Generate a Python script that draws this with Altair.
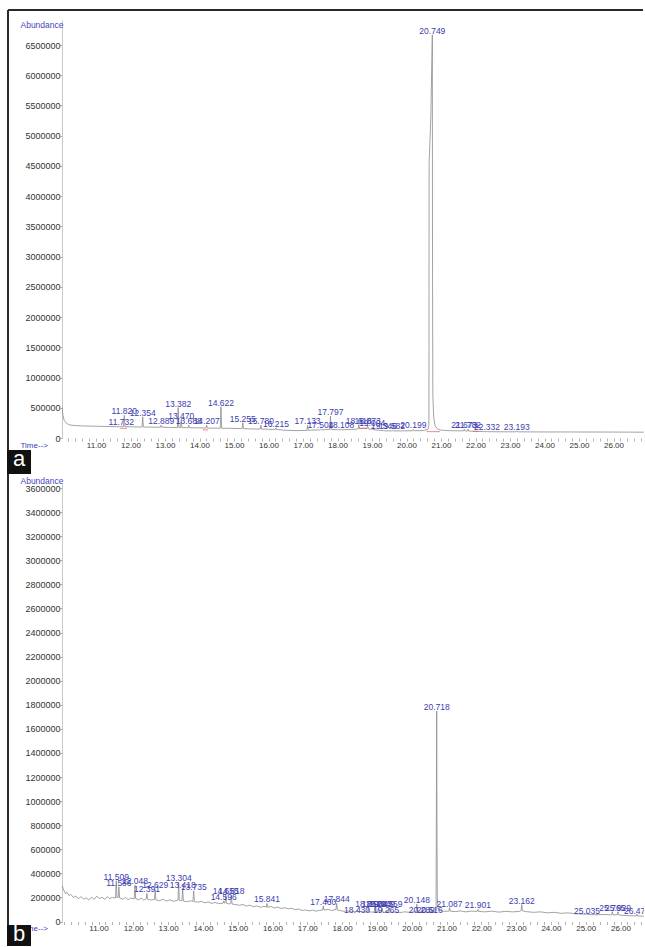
import altair as alt
import pandas as pd

BLUE = "#3c3cb0"
TRACE = "#8c8c8c"

# ---------------- panel (a): total ion chromatogram ----------------
a_time = [
    10.015, 10.04, 10.08, 10.15, 10.25, 10.40, 10.60, 10.80, 11.00, 11.20,
    11.40, 11.60, 11.712, 11.732, 11.752, 11.800, 11.820, 11.840, 12.00, 12.20,
    12.334, 12.354, 12.374, 12.60, 12.869, 12.889, 12.909, 13.10, 13.362, 13.382,
    13.402, 13.450, 13.470, 13.490, 13.668, 13.688, 13.708, 13.90, 14.187, 14.207,
    14.227, 14.40, 14.602, 14.622, 14.642, 14.90, 15.235, 15.255, 15.275, 15.50,
    15.760, 15.780, 15.800, 16.00, 16.195, 16.215, 16.235, 16.50, 16.80, 17.113,
    17.133, 17.153, 17.35, 17.484, 17.504, 17.524, 17.70, 17.777, 17.797, 17.817,
    18.00, 18.088, 18.108, 18.128, 18.40, 18.598, 18.618, 18.638, 18.75, 18.853,
    18.873, 18.893, 18.984, 19.004, 19.024, 19.20, 19.326, 19.346, 19.366, 19.562,
    19.582, 19.602, 19.90, 20.179, 20.199, 20.219, 20.45, 20.62, 20.650, 20.656,
    20.705, 20.749, 20.755, 20.764, 20.79, 20.83, 20.90, 21.00, 21.20, 21.40,
    21.653, 21.673, 21.693, 21.762, 21.782, 21.802, 22.00, 22.312, 22.332, 22.352,
    22.70, 23.173, 23.193, 23.213, 23.60, 24.00, 24.50, 25.00, 25.50, 26.00,
    26.50, 26.88,
]
a_abund = [
    520000, 380000, 290000, 240000, 215000, 205000, 200000, 197000, 195000, 192000,
    190000, 188000, 185000, 202000, 185000, 188000, 377000, 188000, 185000, 183000,
    182000, 351000, 182000, 180000, 178000, 212000, 178000, 175000, 173000, 504000,
    175000, 174000, 306000, 172000, 170000, 212000, 170000, 168000, 165000, 212000,
    165000, 163000, 162000, 516000, 162000, 160000, 155000, 251000, 155000, 150000,
    148000, 212000, 148000, 145000, 142000, 169000, 140000, 128000, 122000, 125000,
    212000, 128000, 132000, 135000, 146000, 135000, 140000, 142000, 361000, 142000,
    138000, 135000, 146000, 135000, 140000, 150000, 223000, 155000, 160000, 155000,
    223000, 150000, 145000, 174000, 140000, 128000, 120000, 129000, 118000, 118000,
    129000, 118000, 118000, 120000, 141000, 120000, 122000, 140000, 220000, 4550000,
    5300000, 6670000, 2500000, 700000, 330000, 200000, 150000, 130000, 122000, 120000,
    118000, 146000, 117000, 116000, 146000, 115000, 110000, 104000, 112000, 104000,
    103000, 102000, 119000, 102000, 101000, 100000, 100000, 99000, 99000, 98000,
    97000, 96000,
]
# labelled peaks: retention time and the abundance where the label sits
a_peak_rt = [11.732, 11.820, 12.354, 12.889, 13.382, 13.470, 13.688, 14.207, 14.622,
             15.255, 15.780, 16.215, 17.133, 17.504, 17.797, 18.108, 18.618, 18.873,
             19.004, 19.346, 19.582, 20.199, 20.749, 21.673, 21.782, 22.332, 23.193]
a_peak_level = [202000, 377000, 351000, 212000, 504000, 306000, 212000, 212000, 516000,
                251000, 212000, 169000, 212000, 146000, 361000, 146000, 223000, 223000,
                174000, 129000, 129000, 141000, 6670000, 146000, 146000, 112000, 119000]
# integration baselines (start, end, level)
a_int_start = [11.70, 14.10, 18.62, 20.58, 21.93]
a_int_end = [11.90, 14.25, 18.85, 20.97, 22.07]
a_int_level = [160000, 135000, 160000, 105000, 110000]
a_y_ticks = [0, 500000, 1000000, 1500000, 2000000, 2500000, 3000000, 3500000,
             4000000, 4500000, 5000000, 5500000, 6000000, 6500000]

# ---------------- panel (b): total ion chromatogram ----------------
b_time = [
    9.955, 10.00, 10.05, 10.10, 10.15, 10.20, 10.28, 10.35, 10.42, 10.50,
    10.58, 10.65, 10.72, 10.80, 10.88, 10.95, 11.02, 11.10, 11.18, 11.25,
    11.32, 11.40, 11.489, 11.509, 11.529, 11.566, 11.586, 11.606, 11.70, 11.78,
    11.85, 11.92, 12.028, 12.048, 12.068, 12.15, 12.22, 12.30, 12.371, 12.391,
    12.411, 12.50, 12.609, 12.629, 12.649, 12.75, 12.85, 12.95, 13.05, 13.15,
    13.25, 13.284, 13.304, 13.324, 13.398, 13.418, 13.438, 13.55, 13.65, 13.715,
    13.735, 13.755, 13.85, 13.95, 14.05, 14.15, 14.25, 14.35, 14.45, 14.576,
    14.596, 14.616, 14.635, 14.655, 14.675, 14.75, 14.798, 14.818, 14.838, 14.95,
    15.05, 15.15, 15.25, 15.35, 15.45, 15.55, 15.65, 15.75, 15.821, 15.841,
    15.861, 15.95, 16.05, 16.15, 16.25, 16.35, 16.45, 16.55, 16.65, 16.75,
    16.85, 16.95, 17.05, 17.15, 17.25, 17.35, 17.440, 17.460, 17.480, 17.60,
    17.70, 17.824, 17.844, 17.864, 17.95, 18.05, 18.15, 18.25, 18.35, 18.410,
    18.430, 18.450, 18.55, 18.65, 18.732, 18.752, 18.772, 18.85, 18.924, 18.944,
    18.964, 19.023, 19.043, 19.063, 19.129, 19.149, 19.169, 19.245, 19.265, 19.285,
    19.339, 19.359, 19.379, 19.50, 19.65, 19.80, 19.95, 20.10, 20.128, 20.148,
    20.168, 20.269, 20.289, 20.309, 20.40, 20.496, 20.516, 20.536, 20.65, 20.700,
    20.712, 20.718, 20.724, 20.735, 20.76, 20.85, 20.95, 21.067, 21.087, 21.107,
    21.25, 21.40, 21.55, 21.70, 21.881, 21.901, 21.921, 22.10, 22.30, 22.50,
    22.70, 22.90, 23.10, 23.142, 23.162, 23.182, 23.30, 23.50, 23.70, 23.90,
    24.10, 24.30, 24.50, 24.70, 24.90, 25.015, 25.035, 25.055, 25.30, 25.50,
    25.745, 25.765, 25.785, 25.909, 25.929, 25.949, 26.10, 26.30, 26.452, 26.472,
    26.492, 26.67,
]
b_abund = [
    300000, 262000, 232000, 242000, 215000, 226000, 200000, 212000, 190000, 206000,
    186000, 196000, 180000, 201000, 185000, 211000, 190000, 201000, 185000, 206000,
    190000, 200000, 196000, 338000, 200000, 200000, 288000, 195000, 185000, 200000,
    180000, 195000, 188000, 301000, 190000, 180000, 195000, 178000, 188000, 233000,
    185000, 178000, 183000, 266000, 180000, 172000, 185000, 170000, 180000, 168000,
    175000, 178000, 324000, 175000, 172000, 274000, 170000, 165000, 172000, 165000,
    255000, 165000, 160000, 168000, 155000, 162000, 150000, 158000, 148000, 152000,
    169000, 153000, 155000, 218000, 152000, 145000, 150000, 218000, 145000, 140000,
    135000, 141000, 128000, 136000, 122000, 130000, 118000, 126000, 120000, 150000,
    118000, 125000, 112000, 120000, 108000, 115000, 105000, 110000, 98000, 104000,
    92000, 96000, 88000, 94000, 86000, 92000, 95000, 130000, 95000, 100000,
    92000, 100000, 150000, 95000, 90000, 85000, 88000, 80000, 84000, 80000,
    95000, 80000, 84000, 78000, 82000, 114000, 80000, 78000, 80000, 114000,
    80000, 80000, 114000, 80000, 78000, 114000, 78000, 76000, 92000, 76000,
    78000, 114000, 76000, 80000, 74000, 80000, 76000, 82000, 82000, 144000,
    80000, 78000, 90000, 78000, 80000, 76000, 90000, 78000, 80000, 90000,
    1200000, 1748000, 1000000, 200000, 100000, 88000, 84000, 86000, 116000, 86000,
    82000, 88000, 80000, 86000, 84000, 100000, 84000, 80000, 86000, 78000,
    84000, 80000, 84000, 90000, 141000, 88000, 82000, 76000, 80000, 72000,
    76000, 68000, 72000, 64000, 62000, 60000, 72000, 58000, 56000, 58000,
    55000, 81000, 55000, 56000, 81000, 55000, 50000, 48000, 46000, 62000,
    46000, 44000,
]
b_peak_rt = [11.509, 11.586, 12.048, 12.391, 12.629, 13.304, 13.418, 13.735, 14.596,
             14.655, 14.818, 15.841, 17.460, 17.844, 18.430, 18.752, 18.944, 19.043,
             19.149, 19.265, 19.359, 20.148, 20.289, 20.516, 20.718, 21.087, 21.901,
             23.162, 25.035, 25.765, 25.929, 26.472]
b_peak_level = [338000, 288000, 301000, 233000, 266000, 324000, 274000, 255000, 169000,
                218000, 218000, 150000, 130000, 150000, 66000, 114000, 114000, 114000,
                114000, 61000, 114000, 144000, 66000, 66000, 1748000, 116000, 100000,
                141000, 58000, 81000, 81000, 58000]
b_y_ticks = [0, 200000, 400000, 600000, 800000, 1000000, 1200000, 1400000, 1600000,
             1800000, 2000000, 2200000, 2400000, 2600000, 2800000, 3000000, 3200000,
             3400000, 3600000]

# minutes that carry a label on the time axis
time_labelled = [11, 12, 13, 14, 15, 16, 17, 18, 19, 20, 21, 22, 23, 24, 25, 26]

W = 582


def one(v):
    return pd.DataFrame({"k": [v]})


def panel(time, abund, rt, level, y_ticks, x_dom, y_dom, h, title_y,
          letter, box_y, box_y2, letter_y, top_frame, ints=None):
    trace = pd.DataFrame({"t": time, "v": abund})
    peaks = pd.DataFrame({"t": rt, "v": level, "label": [f"{r:.3f}" for r in rt]})
    xs = alt.Scale(domain=x_dom, nice=False, zero=False)
    ys = alt.Scale(domain=y_dom, nice=False, zero=False)
    # small ticks every 0.2 min, labels on the whole minutes
    minor = [round(10.0 + 0.2 * i, 1) for i in range(90)]
    minor = [m for m in minor if x_dom[0] <= m <= x_dom[1]]
    shown = "[" + ",".join(str(v) for v in time_labelled) + "]"
    xaxis = alt.Axis(
        values=minor, tickCount=500,
        labelExpr=f"indexof({shown}, datum.value) >= 0 ? format(datum.value, '.2f') : ''",
        domain=False, grid=False, tickSize=3, tickColor="#a0a0a0", tickWidth=0.8,
        labelFontSize=8, labelColor="#333333", labelPadding=0,
        labelOverlap=False, labelFlush=False, labelBound=False,
        title="Time-->", titleAngle=0, titleX=-42, titleY=7,
        titleAlign="left", titleBaseline="middle", titleFontSize=8,
        titleFontWeight="normal", titleColor=BLUE,
    )
    yaxis = alt.Axis(
        values=y_ticks, tickCount=500, format="d", grid=False,
        domainColor="#c8c8c8", domainWidth=1, tickColor="#a0a0a0", tickSize=2,
        labelFontSize=9, labelColor="#333333", labelPadding=0,
        labelOverlap=False, labelFlush=False, labelBound=False,
        title="Abundance", titleAngle=0, titleX=1, titleY=title_y,
        titleAlign="right", titleBaseline="middle", titleFontSize=8.5,
        titleFontWeight="normal", titleColor="#4646b8",
    )
    line = alt.Chart(trace).mark_line(color=TRACE, strokeWidth=0.8, clip=True).encode(
        x=alt.X("t:Q", scale=xs, axis=xaxis),
        y=alt.Y("v:Q", scale=ys, axis=yaxis),
        order="t:Q",
    )
    layers = [line]
    if ints is not None:
        idf = pd.DataFrame({"t": ints[0], "t2": ints[1], "v": ints[2]})
        layers.append(
            alt.Chart(idf).mark_rule(color="#e05a5a", strokeWidth=1, opacity=0.7, clip=True).encode(
                x=alt.X("t:Q", scale=xs), x2="t2:Q", y=alt.Y("v:Q", scale=ys)
            )
        )
    labels = alt.Chart(peaks).mark_text(
        fontSize=8.5, color=BLUE, align="center", baseline="alphabetic", dy=-1, clip=True
    ).encode(x=alt.X("t:Q", scale=xs), y=alt.Y("v:Q", scale=ys), text="label:N")
    layers.append(labels)

    # page frame
    layers.append(alt.Chart(one(0)).mark_rule(color="#2a2a2a", strokeWidth=2).encode(
        x=alt.value(-54), y=alt.value(top_frame), y2=alt.value(box_y)))
    if letter == "a":
        layers.append(alt.Chart(one(1)).mark_rule(color="#2a2a2a", strokeWidth=2).encode(
            x=alt.value(-54), x2=alt.value(W - 1), y=alt.value(top_frame)))
    # panel letter
    layers.append(alt.Chart(one(2)).mark_rect(color="#111111").encode(
        x=alt.value(-55), x2=alt.value(-31), y=alt.value(box_y), y2=alt.value(box_y2)))
    layers.append(alt.Chart(one(3)).mark_text(
        text=letter, color="white", fontSize=22, align="center", baseline="alphabetic"
    ).encode(x=alt.value(-43), y=alt.value(letter_y)))
    return alt.layer(*layers).properties(width=W, height=h)


pa = panel(a_time, a_abund, a_peak_rt, a_peak_level, a_y_ticks,
           [10.0145, 26.884], [0, 6914000], 418, 4, "a", 430, 454, 446, -10,
           ints=(a_int_start, a_int_end, a_int_level))
pb = panel(b_time, b_abund, b_peak_rt, b_peak_level, b_y_ticks,
           [9.951, 26.675], [0, 3634000], 437.5, -4, "b", 441, 462, 457, -10)

chart = (
    alt.vconcat(pa, pb, spacing=46, bounds="flush")
    .resolve_scale(x="independent", y="independent")
    .properties(padding={"left": 7, "top": 9, "right": 0, "bottom": 0}, background="white")
    .configure(font="Liberation Sans")
    .configure_axis(labelOverlap=False)
    .configure_view(stroke=None)
)

chart.save("out.html", embed_options={"renderer": "svg", "actions": False})
